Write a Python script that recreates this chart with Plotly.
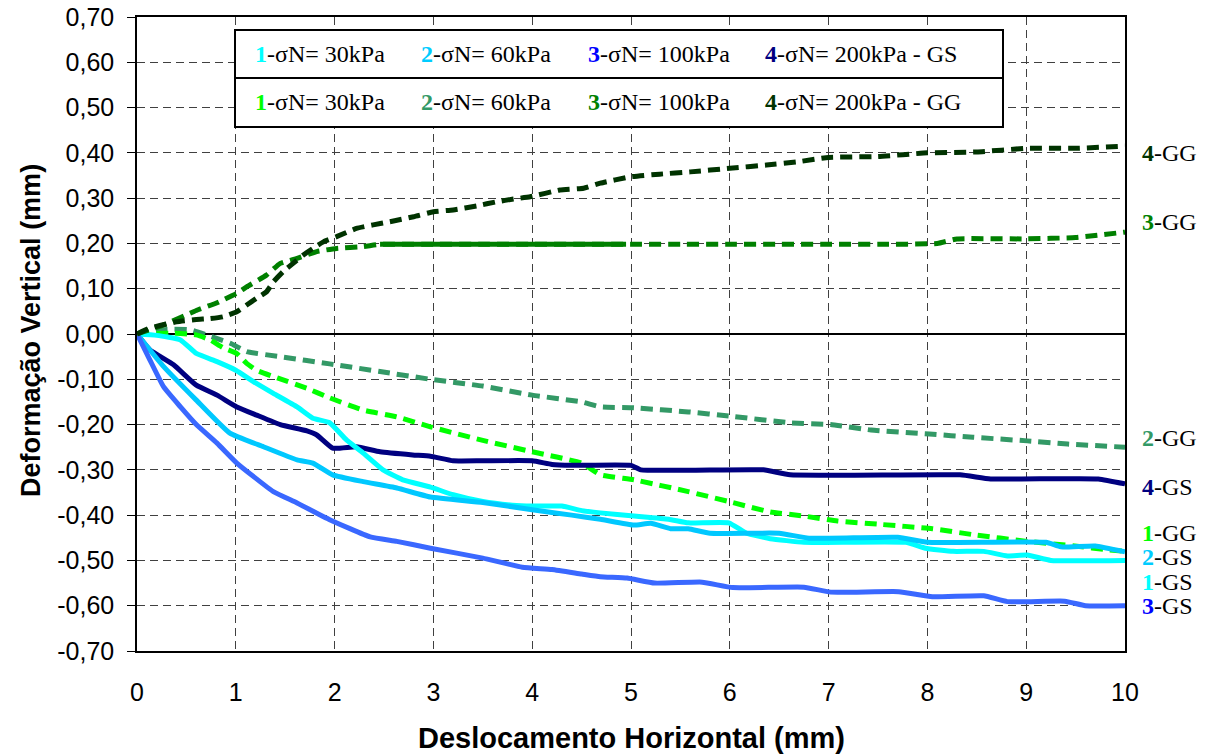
import plotly.graph_objects as go

# ---------------- data ----------------
x_gs1 = [0, 0.2, 0.44, 0.6, 0.81, 1.0, 1.2, 1.38, 1.62, 1.78, 1.95, 2.12, 2.29, 2.49, 2.69, 2.97, 3.2, 3.5, 3.8, 4.0, 4.3, 4.5, 4.69, 5.03, 5.38, 5.58, 5.99, 6.17, 6.41, 6.75, 7.78, 7.98, 8.26, 8.57, 8.81, 9.01, 9.25, 10.0]
y_gs1 = [0, -0.003, -0.013, -0.043, -0.061, -0.08, -0.108, -0.131, -0.161, -0.186, -0.196, -0.234, -0.263, -0.30, -0.322, -0.338, -0.355, -0.37, -0.378, -0.38, -0.38, -0.39, -0.395, -0.402, -0.409, -0.417, -0.417, -0.44, -0.452, -0.46, -0.46, -0.473, -0.48, -0.48, -0.49, -0.488, -0.50, -0.50]

x_gs2 = [0, 0.27, 0.6, 0.94, 1.28, 1.62, 1.78, 1.98, 2.29, 2.63, 2.97, 3.5, 4.0, 4.4, 4.69, 5.03, 5.2, 5.4, 5.58, 5.8, 6.5, 6.8, 7.7, 8.0, 9.2, 9.35, 9.7, 10.0]
y_gs2 = [0, -0.072, -0.146, -0.219, -0.249, -0.278, -0.285, -0.311, -0.326, -0.34, -0.36, -0.372, -0.388, -0.40, -0.409, -0.422, -0.418, -0.43, -0.43, -0.44, -0.44, -0.451, -0.449, -0.46, -0.46, -0.47, -0.468, -0.481]

x_gs3 = [0, 0.13, 0.27, 0.44, 0.6, 0.81, 1.01, 1.38, 1.62, 1.95, 2.36, 2.63, 2.97, 3.5, 3.9, 4.2, 4.5, 4.69, 4.96, 5.24, 5.72, 6.03, 6.75, 7.02, 7.71, 8.05, 8.57, 8.81, 9.39, 9.6, 10.0]
y_gs3 = [0, -0.057, -0.117, -0.161, -0.2, -0.241, -0.285, -0.348, -0.373, -0.41, -0.448, -0.458, -0.473, -0.495, -0.515, -0.52, -0.53, -0.536, -0.539, -0.55, -0.548, -0.56, -0.559, -0.57, -0.569, -0.58, -0.578, -0.591, -0.59, -0.60, -0.60]

x_gs4 = [0, 0.13, 0.37, 0.6, 0.81, 1.01, 1.21, 1.45, 1.72, 1.82, 1.98, 2.22, 2.46, 2.79, 2.97, 3.2, 3.5, 4.0, 4.2, 4.4, 5.0, 5.1, 6.34, 6.61, 8.33, 8.64, 9.73, 10.0]
y_gs4 = [0, -0.035, -0.068, -0.113, -0.135, -0.161, -0.179, -0.2, -0.214, -0.223, -0.252, -0.249, -0.26, -0.267, -0.27, -0.28, -0.28, -0.28, -0.288, -0.29, -0.29, -0.30, -0.30, -0.311, -0.311, -0.32, -0.32, -0.331]

x_gg1 = [0, 0.37, 0.6, 0.74, 0.87, 1.01, 1.11, 1.21, 1.42, 1.72, 1.95, 2.29, 2.63, 2.97, 3.5, 4.0, 4.5, 4.69, 5.03, 5.58, 5.99, 6.41, 6.75, 7.09, 7.5, 8.05, 8.46, 9.01, 9.49, 9.84, 10.0]
y_gg1 = [0, 0.002, -0.002, -0.013, -0.03, -0.043, -0.065, -0.08, -0.097, -0.12, -0.141, -0.168, -0.183, -0.205, -0.235, -0.26, -0.285, -0.311, -0.322, -0.348, -0.37, -0.393, -0.402, -0.413, -0.42, -0.43, -0.443, -0.458, -0.468, -0.477, -0.48]

x_gg2 = [0, 0.3, 0.54, 0.94, 1.11, 1.45, 1.95, 2.46, 2.97, 3.5, 4.0, 4.5, 4.69, 5.03, 5.58, 5.99, 6.61, 7.02, 7.43, 8.02, 8.46, 9.01, 9.42, 10.0]
y_gg2 = [0, 0.01, 0.009, -0.02, -0.039, -0.05, -0.066, -0.083, -0.10, -0.115, -0.135, -0.15, -0.161, -0.163, -0.172, -0.181, -0.196, -0.20, -0.212, -0.221, -0.228, -0.236, -0.243, -0.25]

x_gg3 = [0, 0.27, 0.6, 0.81, 1.01, 1.11, 1.31, 1.45, 1.62, 1.82, 2.02, 2.29, 2.46, 3.0, 3.5, 4.0, 4.5, 4.95, 5.5, 6.0, 6.5, 7.0, 7.5, 8.1, 8.3, 9.0, 9.5, 10.0]
y_gg3 = [0, 0.02, 0.052, 0.069, 0.09, 0.104, 0.13, 0.156, 0.167, 0.182, 0.189, 0.193, 0.198, 0.198, 0.198, 0.198, 0.198, 0.198, 0.198, 0.198, 0.198, 0.198, 0.198, 0.20, 0.21, 0.21, 0.213, 0.225]

x_gg4 = [0, 0.13, 0.40, 0.60, 0.74, 0.87, 1.01, 1.11, 1.21, 1.31, 1.38, 1.48, 1.58, 1.68, 1.78, 1.89, 2.02, 2.22, 2.39, 2.56, 2.8, 3.0, 3.2, 3.44, 3.64, 3.81, 3.98, 4.28, 4.52, 4.69, 4.99, 5.29, 5.6, 6.0, 6.37, 6.68, 7.0, 7.5, 8.0, 8.5, 9.0, 9.5, 10.0]
y_gg4 = [0, 0.013, 0.027, 0.032, 0.034, 0.038, 0.049, 0.064, 0.079, 0.093, 0.115, 0.138, 0.156, 0.174, 0.189, 0.204, 0.215, 0.233, 0.241, 0.248, 0.259, 0.27, 0.274, 0.283, 0.292, 0.298, 0.303, 0.318, 0.322, 0.333, 0.347, 0.353, 0.358, 0.366, 0.373, 0.38, 0.39, 0.392, 0.40, 0.402, 0.41, 0.41, 0.415]

y_tickvals = [0.7, 0.6, 0.5, 0.4, 0.3, 0.2, 0.1, 0.0, -0.1, -0.2, -0.3, -0.4, -0.5, -0.6, -0.7]
y_ticktext = ["0,70", "0,60", "0,50", "0,40", "0,30", "0,20", "0,10", "0,00",
              "-0,10", "-0,20", "-0,30", "-0,40", "-0,50", "-0,60", "-0,70"]
x_tickvals = [0, 1, 2, 3, 4, 5, 6, 7, 8, 9, 10]
x_ticktext = ["0", "1", "2", "3", "4", "5", "6", "7", "8", "9", "10"]

legend_groups = ["1-σN= 30kPa", "2-σN= 60kPa", "3-σN= 100kPa", "4-σN= 200kPa"]
end_labels = ["4-GG", "3-GG", "2-GG", "4-GS", "1-GG", "2-GS", "1-GS", "3-GS"]
end_label_y = [0.40, 0.247, -0.23, -0.338, -0.439, -0.492, -0.548, -0.60]

# ---------------- styles ----------------
C = {
    "GS1": "#00FFFF", "GS2": "#00C8FF", "GS3": "#3A68FF", "GS4": "#000080",
    "GG1": "#00FF00", "GG2": "#339966", "GG3": "#008000", "GG4": "#003300",
}
NUMC = {
    "1-GS": "#00FFFF", "2-GS": "#00CCFF", "3-GS": "#0000FF", "4-GS": "#000080",
    "1-GG": "#00FF00", "2-GG": "#339966", "3-GG": "#008000", "4-GG": "#003300",
}
DASH = "12px,7px"
LW = 5

fig = go.Figure()

def add(x, y, color, dash=None, name=""):
    fig.add_trace(go.Scatter(
        x=x, y=y, mode="lines", name=name, showlegend=False,
        line=dict(color=color, width=LW, dash=dash, shape="spline", smoothing=0.4),
    ))

add(x_gg2, y_gg2, C["GG2"], DASH, "2-GG")
add(x_gg1, y_gg1, C["GG1"], DASH, "1-GG")
add(x_gs4, y_gs4, C["GS4"], None, "4-GS")
add(x_gs1, y_gs1, C["GS1"], None, "1-GS")
add(x_gs2, y_gs2, C["GS2"], None, "2-GS")
add(x_gs3, y_gs3, C["GS3"], None, "3-GS")
add(x_gg3, y_gg3, C["GG3"], DASH, "3-GG")
# dense part of 3-GG renders as a continuous line
seg = [(a, b) for a, b in zip(x_gg3, y_gg3) if 2.46 <= a <= 4.95]
add([s[0] for s in seg], [s[1] for s in seg], C["GG3"], None, "3-GG")
add(x_gg4, y_gg4, C["GG4"], DASH, "4-GG")

TICKFONT = dict(family="Liberation Sans, Arial", size=25, color="black")

fig.update_xaxes(
    range=[0, 10], tickvals=x_tickvals, ticktext=x_ticktext, automargin=False,
    showgrid=True, gridcolor="#404040", gridwidth=1, griddash="8px,5px",
    showline=True, linecolor="black", linewidth=1.5, mirror=True,
    zeroline=False, ticks="", ticklabelstandoff=18, tickfont=TICKFONT,
)
fig.update_yaxes(
    range=[-0.7, 0.7], tickvals=y_tickvals, ticktext=y_ticktext, automargin=False,
    showgrid=True, gridcolor="#404040", gridwidth=1, griddash="8px,5px",
    showline=True, linecolor="black", linewidth=1.5, mirror=True,
    zeroline=True, zerolinecolor="black", zerolinewidth=1.5,
    ticks="outside", ticklen=8, tickcolor="black", tickwidth=1,
    ticklabelstandoff=8, tickfont=TICKFONT,
)

W, H = 1216, 754
ML, MR, MT, MB = 137, 91, 17, 103
PW, PH = W - ML - MR, H - MT - MB

def px2paper(px, py):
    return (px - ML) / PW, (H - MB - py) / PH

annotations = []
# axis titles
tx, ty = px2paper(631, 738)
annotations.append(dict(text="<b>Deslocamento Horizontal (mm)</b>", xref="paper", yref="paper",
                        x=tx, y=ty, xanchor="center", yanchor="middle", showarrow=False,
                        font=dict(family="Liberation Sans, Arial", size=29, color="black")))
tx, ty = px2paper(31, 331)
annotations.append(dict(text="<b>Deformação Vertical (mm)</b>", xref="paper", yref="paper",
                        x=tx, y=ty, xanchor="center", yanchor="middle", showarrow=False, textangle=-90,
                        font=dict(family="Liberation Sans, Arial", size=27, color="black")))

# legend box
shapes = []
bx0, by_top = px2paper(235, 30)
bx1, by_mid = px2paper(1003, 78)
_, by_bot = px2paper(235, 127)
shapes.append(dict(type="rect", xref="paper", yref="paper", x0=bx0, x1=bx1, y0=by_mid, y1=by_top,
                   line=dict(color="black", width=2), fillcolor="white", layer="above"))
shapes.append(dict(type="rect", xref="paper", yref="paper", x0=bx0, x1=bx1, y0=by_bot, y1=by_mid,
                   line=dict(color="black", width=2), fillcolor="white", layer="above"))

group_px = [253, 419, 586, 763]
row_rows = [(54, ["1-GS", "2-GS", "3-GS", "4-GS"], " - GS"), (102, ["1-GG", "2-GG", "3-GG", "4-GG"], " - GG")]
LEGFONT = dict(family="Liberation Serif, Times New Roman", size=24, color="black")
for ry, keys, suffix in row_rows:
    for i, (gx, g, k) in enumerate(zip(group_px, legend_groups, keys)):
        num, rest = g.split("-", 1)
        txt = f"<b><span style='color:{NUMC[k]}'>{num}</span></b>-{rest}"
        if i == 3:
            txt += suffix
        ax, ay = px2paper(gx, ry)
        annotations.append(dict(text=txt, xref="paper", yref="paper", x=ax, y=ay,
                                xanchor="left", yanchor="middle", showarrow=False, font=LEGFONT))

# end labels
for lab, ly in zip(end_labels, end_label_y):
    num, rest = lab.split("-", 1)
    annotations.append(dict(text=f"<b><span style='color:{NUMC[lab]}'>{num}</span></b>-{rest}",
                            xref="x", yref="y", x=10, y=ly, xshift=15, xanchor="left", yanchor="middle",
                            showarrow=False,
                            font=dict(family="Liberation Serif, Times New Roman", size=24, color="black")))

fig.update_layout(
    width=W, height=H, margin=dict(l=ML, r=MR, t=MT, b=MB),
    paper_bgcolor="white", plot_bgcolor="white",
    showlegend=False, annotations=annotations, shapes=shapes,
)

fig.write_html("out.html")
